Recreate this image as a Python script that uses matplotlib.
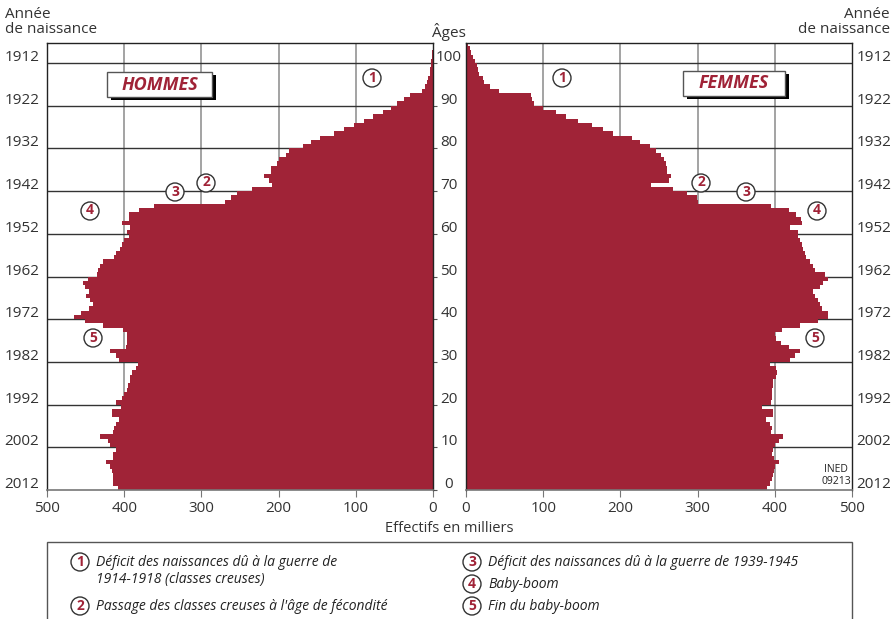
import matplotlib
matplotlib.use("Agg")
import matplotlib.pyplot as plt
from matplotlib import transforms, font_manager
from matplotlib.patches import Rectangle, Ellipse

### Données (effectifs en milliers au 1er janvier 2013, par âge)
ages = list(range(105))
hommes = [408, 414, 415, 414, 416, 418, 424, 415, 414, 411,
          418, 421, 431, 414, 413, 410, 407, 416, 416, 404,
          410, 403, 400, 396, 395, 392, 392, 390, 385, 382,
          407, 411, 418, 398, 396, 396, 396, 402, 428, 451,
          465, 456, 446, 441, 444, 449, 446, 451, 454, 447,
          435, 434, 431, 427, 413, 410, 406, 403, 400, 394,
          396, 392, 403, 394, 394, 381, 362, 270, 262, 254,
          234, 208, 213, 219, 210, 210, 202, 199, 190, 186,
          169, 158, 147, 128, 115, 102, 90, 78, 65, 54,
          46, 38, 30, 14, 10, 8, 6, 4.5, 3.5, 2.5,
          2, 1.5, 1, 0.6, 0.3]
femmes = [390, 394, 397, 398, 399, 400, 405, 399, 397, 398,
          400, 406, 411, 395, 396, 394, 389, 398, 398, 383,
          395, 396, 396, 396, 398, 398, 401, 403, 402, 394,
          420, 426, 433, 418, 408, 402, 400, 409, 433, 456,
          469, 469, 461, 458, 456, 452, 450, 458, 463, 469,
          465, 452, 450, 446, 441, 439, 437, 435, 432, 430,
          430, 420, 435, 434, 427, 418, 395, 300, 299, 286,
          268, 240, 263, 265, 260, 260, 259, 256, 253, 246,
          238, 225, 215, 191, 178, 163, 145, 130, 117, 100,
          88, 86, 84, 43, 31, 23, 22, 17, 16, 14,
          11.7, 9.5, 7, 5, 3]
ages_ticks = [0, 10, 20, 30, 40, 50, 60, 70, 80, 90, 100]
annees = [2012, 2002, 1992, 1982, 1972, 1962, 1952, 1942, 1932, 1922, 1912]
effectifs_ticks = [0, 100, 200, 300, 400, 500]

legende_gauche = ["Déficit des naissances dû à la guerre de",
                  "1914-1918 (classes creuses)",
                  "Passage des classes creuses à l'âge de fécondité"]
legende_droite = ["Déficit des naissances dû à la guerre de 1939-1945",
                  "Baby-boom",
                  "Fin du baby-boom"]
###

W, H = 894, 619
ROUGE = "#a02337"
GRIS_TXT = "#333333"

names = {f.name for f in font_manager.fontManager.ttflist}
police = "Liberation Sans Narrow" if "Liberation Sans Narrow" in names else "Open Sans"
plt.rcParams["font.family"] = [police, "DejaVu Sans"]


def fx(x):
    return x / W


def fy(y):
    return 1 - y / H


def rond(fig, x, y, num, r=9):
    fig.add_artist(Ellipse((fx(x), fy(y)), 2 * r / W, 2 * r / H, transform=fig.transFigure,
                           facecolor="white", edgecolor="#333333", lw=1.0, zorder=5))
    fig.text(fx(x), fy(y) + 0.5 / H, num, ha="center", va="center", color=ROUGE,
             fontsize=10, weight="bold", zorder=6)


def etiquette(fig, x0, y0, x1, y1, texte):
    fig.add_artist(Rectangle((fx(x0 + 4), fy(y1 + 3)), (x1 - x0) / W, (y1 - y0) / H,
                             transform=fig.transFigure, facecolor="black", lw=0, zorder=5))
    fig.add_artist(Rectangle((fx(x0), fy(y1)), (x1 - x0) / W, (y1 - y0) / H,
                             transform=fig.transFigure, facecolor="white", edgecolor="#555555",
                             lw=1, zorder=6))
    fig.text(fx((x0 + x1) / 2), fy((y0 + y1) / 2), texte, ha="center", va="center",
             color=ROUGE, fontsize=13, weight="bold", style="italic", zorder=7)


fig = plt.figure(figsize=(W / 100, H / 100), dpi=100)
axL = fig.add_axes([fx(47), fy(490), (433 - 47) / W, (490 - 43) / H])
axR = fig.add_axes([fx(466), fy(490), (852 - 466) / W, (490 - 43) / H])

for ax, vals in [(axL, hommes), (axR, femmes)]:
    ax.barh(ages, vals, height=1.0, align="edge", color=ROUGE, linewidth=0,
            antialiased=False, zorder=2)
    ax.set_ylim(0, 104.7)
    for v in [100, 200, 300, 400]:
        ax.axvline(v, color="#8a8a8a", lw=1.1, zorder=1)
    for a in ages_ticks[1:]:
        ax.axhline(a, color="#333333", lw=1.0, zorder=1)
    ax.set_xticks(effectifs_ticks)
    ax.set_xticklabels([str(t) for t in effectifs_ticks])
    ax.tick_params(axis="x", direction="out", length=5, color="#777777",
                   labelsize=11, labelcolor=GRIS_TXT, pad=3)
    for s in ["left", "right", "top"]:
        ax.spines[s].set_color("#222222")
        ax.spines[s].set_linewidth(1.0)
    ax.spines["bottom"].set_color("#777777")
    ax.spines["bottom"].set_linewidth(1.2)
    ax.set_axisbelow(True)

axL.set_xlim(500, 0)
axR.set_xlim(0, 500)

axL.yaxis.tick_right()
axL.set_yticks(ages_ticks)
axL.tick_params(axis="y", direction="out", length=3, color="#555555", labelright=False)
axR.set_yticks([])

# âges au centre, années de naissance de chaque côté
trL = transforms.offset_copy(axL.get_yaxis_transform(), fig=fig, x=0, y=5.5, units="dots")
trR = transforms.offset_copy(axR.get_yaxis_transform(), fig=fig, x=0, y=5.5, units="dots")
for a, an in zip(ages_ticks, annees):
    axL.text(1 + 16 / 386, a, str(a), transform=trL, ha="center", va="center",
             fontsize=11, color=GRIS_TXT)
    axL.text(-25 / 386, a, str(an), transform=trL, ha="center", va="center",
             fontsize=11, color=GRIS_TXT)
    axR.text(1 + 22 / 386, a, str(an), transform=trR, ha="center", va="center",
             fontsize=11, color=GRIS_TXT)

fig.text(fx(449), fy(32), "Âges", ha="center", va="center", fontsize=11, color=GRIS_TXT)
fig.text(fx(5), fy(22), "Année\nde naissance", ha="left", va="center", fontsize=11,
         color=GRIS_TXT, linespacing=1.05)
fig.text(fx(890), fy(22), "Année\nde naissance", ha="right", va="center", fontsize=11,
         color=GRIS_TXT, linespacing=1.05, multialignment="right")
fig.text(fx(449), fy(528), "Effectifs en milliers", ha="center", va="center",
         fontsize=10.5, color=GRIS_TXT)
fig.text(fx(836), fy(470), "INED", ha="center", va="center", fontsize=7.5, color="#222222")
fig.text(fx(836), fy(482), "09213", ha="center", va="center", fontsize=7.5, color="#222222")

etiquette(fig, 107, 72, 212, 97, "HOMMES")
etiquette(fig, 683, 71, 785, 96, "FEMMES")

# repères numérotés sur la pyramide
for x, y, n in [(372, 78, "1"), (562, 78, "1"), (206, 183, "2"), (701, 183, "2"),
                (175, 192, "3"), (746, 192, "3"), (90, 211, "4"), (817, 211, "4"),
                (93, 338, "5"), (815, 338, "5")]:
    rond(fig, x, y, n)

# légende
fig.add_artist(Rectangle((fx(47), fy(622)), (852 - 47) / W, (622 - 542) / H,
                         transform=fig.transFigure, fill=False, edgecolor="#555555", lw=1))
rond(fig, 80, 562, "1")
rond(fig, 80, 606, "2")
rond(fig, 472, 562, "3")
rond(fig, 472, 584, "4")
rond(fig, 472, 606, "5")
for y, t in zip([562, 580, 606], legende_gauche):
    fig.text(fx(96), fy(y), t, ha="left", va="center", fontsize=10, style="italic",
             color="#222222")
for y, t in zip([562, 584, 606], legende_droite):
    fig.text(fx(488), fy(y), t, ha="left", va="center", fontsize=10, style="italic",
             color="#222222")

fig.savefig("out.png", dpi=100)
